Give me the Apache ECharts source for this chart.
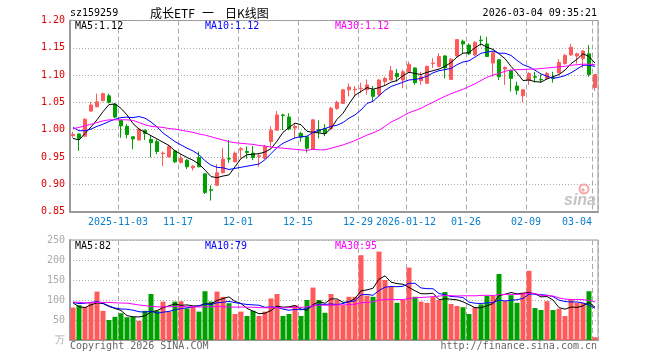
<!DOCTYPE html>
<html><head><meta charset="utf-8">
<script src="https://cdn.jsdelivr.net/npm/echarts@6/dist/echarts.min.js"></script>
<style>html,body{margin:0;padding:0;background:#fff}#c{width:660px;height:360px}</style>
</head><body><div id="c"></div>
<script>
// ---- categories (trading days) ----
const dates = ['2025-10-22','2025-10-23','2025-10-24','2025-10-27','2025-10-28','2025-10-29','2025-10-30','2025-10-31',
'2025-11-03','2025-11-04','2025-11-05','2025-11-06','2025-11-07','2025-11-10','2025-11-11','2025-11-12','2025-11-13','2025-11-14','2025-11-17','2025-11-18','2025-11-19','2025-11-20','2025-11-21','2025-11-24','2025-11-25','2025-11-26','2025-11-27','2025-11-28',
'2025-12-01','2025-12-02','2025-12-03','2025-12-04','2025-12-05','2025-12-08','2025-12-09','2025-12-10','2025-12-11','2025-12-12','2025-12-15','2025-12-16','2025-12-17','2025-12-18','2025-12-19','2025-12-22','2025-12-23','2025-12-24','2025-12-25','2025-12-26','2025-12-29','2025-12-30','2025-12-31',
'2026-01-05','2026-01-06','2026-01-07','2026-01-08','2026-01-09','2026-01-12','2026-01-13','2026-01-14','2026-01-15','2026-01-16','2026-01-19','2026-01-20','2026-01-21','2026-01-22','2026-01-23','2026-01-26','2026-01-27','2026-01-28','2026-01-29','2026-01-30',
'2026-02-02','2026-02-03','2026-02-04','2026-02-05','2026-02-06','2026-02-09','2026-02-10','2026-02-11','2026-02-12','2026-02-13','2026-02-24','2026-02-25','2026-02-26','2026-02-27',
'2026-03-02','2026-03-03','2026-03-04'];

// ---- tick labels ----
const tickDates  = ['2025-11-03','2025-11-17','2025-12-01','2025-12-15','2025-12-29','2026-01-12','2026-01-26','2026-02-09','2026-03-04'];
const tickLabels = ['2025-11-03','11-17','12-01','12-15','12-29','2026-01-12','01-26','02-09','03-04'];
const priceTicks = [0.85, 1.20, 0.05];   // min, max, step
const volTicks   = [0, 250, 50];

// ---- price series ----
const opens = [0.989,0.992,0.988,1.034,1.042,1.053,1.062,1.047,1.017,1.006,
0.987,0.981,0.999,0.982,0.978,0.956,0.950,0.961,0.940,0.944,
0.930,0.949,0.919,0.890,0.898,0.921,0.947,0.941,0.963,0.960,
0.957,0.951,0.947,0.978,0.999,1.027,1.023,1.003,0.993,0.987,
0.964,1.000,1.002,1.002,1.039,1.048,1.073,1.073,1.075,1.073,
1.073,1.064,1.088,1.091,1.103,1.091,1.106,1.113,1.090,1.085,
1.121,1.116,1.135,1.092,1.135,1.162,1.155,1.137,1.164,1.157,
1.122,1.128,1.111,1.108,1.080,1.062,1.091,1.097,1.092,1.094,
1.095,1.104,1.121,1.137,1.135,1.130,1.139,1.077];
const closes = [0.991,0.984,1.019,1.045,1.051,1.066,1.050,1.023,1.007,0.991,
0.983,1.001,0.993,0.976,0.960,0.957,0.969,0.941,0.947,0.932,
0.933,0.932,0.885,0.889,0.921,0.946,0.946,0.957,0.965,0.958,
0.949,0.952,0.969,0.999,1.027,1.026,1.001,1.006,0.986,0.966,
1.018,0.996,0.993,1.039,1.050,1.073,1.078,1.074,1.076,1.082,
1.061,1.091,1.094,1.108,1.097,1.106,1.120,1.086,1.097,1.116,
1.122,1.134,1.113,1.129,1.165,1.157,1.139,1.160,1.163,1.134,
1.141,1.097,1.114,1.094,1.072,1.073,1.103,1.096,1.091,1.103,
1.094,1.123,1.136,1.151,1.139,1.144,1.101,1.101];
const lows = [0.985,0.961,0.987,1.033,1.041,1.052,1.048,1.021,0.985,0.984,
0.964,0.980,0.981,0.949,0.955,0.933,0.949,0.939,0.938,0.928,
0.925,0.931,0.882,0.870,0.897,0.920,0.939,0.940,0.947,0.947,
0.944,0.932,0.946,0.968,0.998,0.999,0.999,0.984,0.978,0.958,
0.963,0.984,0.988,1.001,1.036,1.047,1.061,1.061,1.067,1.064,
1.051,1.062,1.080,1.090,1.088,1.076,1.105,1.082,1.082,1.084,
1.113,1.114,1.094,1.091,1.134,1.140,1.137,1.135,1.154,1.133,
1.097,1.091,1.082,1.070,1.064,1.050,1.082,1.086,1.086,1.091,
1.086,1.103,1.119,1.135,1.121,1.113,1.097,1.071];
const highs = [0.996,0.993,1.021,1.051,1.066,1.068,1.066,1.048,1.017,1.010,
0.987,1.002,1.000,0.990,0.982,0.960,0.972,0.963,0.955,0.946,
0.935,0.960,0.920,0.898,0.937,0.966,0.981,0.960,0.968,0.969,
0.970,0.955,0.972,1.006,1.034,1.029,1.030,1.010,0.996,0.988,
1.019,1.017,1.010,1.042,1.053,1.074,1.085,1.080,1.086,1.092,
1.080,1.092,1.097,1.117,1.111,1.110,1.125,1.114,1.106,1.117,
1.131,1.140,1.137,1.131,1.166,1.165,1.158,1.162,1.172,1.170,
1.143,1.129,1.116,1.110,1.088,1.074,1.105,1.106,1.101,1.106,
1.106,1.129,1.139,1.157,1.141,1.146,1.155,1.102];

const ma5 = [0.984,0.981,0.993,1.005,1.018,1.033,1.046,1.047,1.039,1.027,
1.011,1.001,0.995,0.989,0.983,0.977,0.971,0.961,0.955,0.949,
0.944,0.937,0.926,0.914,0.912,0.915,0.917,0.932,0.947,0.954,
0.955,0.956,0.959,0.965,0.979,0.995,1.004,1.012,1.009,0.997,
0.995,0.994,0.992,1.002,1.019,1.030,1.047,1.063,1.070,1.077,
1.074,1.077,1.081,1.087,1.090,1.099,1.105,1.103,1.101,1.105,
1.108,1.111,1.116,1.123,1.133,1.140,1.141,1.150,1.157,1.151,
1.147,1.139,1.130,1.116,1.104,1.090,1.091,1.088,1.087,1.093,
1.097,1.101,1.109,1.121,1.129,1.139,1.134,1.122];
const ma10 = [1.004,0.998,0.998,1.001,1.006,1.010,1.015,1.019,1.022,1.023,
1.022,1.024,1.021,1.014,1.005,0.994,0.986,0.978,0.972,0.966,
0.961,0.954,0.943,0.935,0.931,0.930,0.927,0.929,0.931,0.933,
0.935,0.937,0.945,0.956,0.967,0.975,0.980,0.985,0.987,0.988,
0.995,0.999,1.002,1.006,1.008,1.013,1.021,1.027,1.036,1.048,
1.052,1.062,1.072,1.079,1.083,1.087,1.091,1.092,1.094,1.098,
1.104,1.108,1.110,1.112,1.119,1.124,1.126,1.133,1.140,1.142,
1.144,1.140,1.140,1.136,1.127,1.119,1.115,1.109,1.102,1.098,
1.094,1.096,1.099,1.104,1.111,1.118,1.118,1.116];
const ma30 = [1.002,1.004,1.007,1.010,1.013,1.016,1.018,1.018,1.018,1.018,
1.017,1.013,1.009,1.006,1.005,1.004,1.002,1.001,0.999,0.997,
0.995,0.992,0.990,0.987,0.984,0.981,0.978,0.976,0.975,0.974,
0.973,0.971,0.970,0.968,0.967,0.966,0.965,0.964,0.963,0.962,
0.964,0.963,0.963,0.966,0.969,0.972,0.976,0.980,0.985,0.990,
0.994,0.999,1.006,1.014,1.019,1.025,1.031,1.035,1.039,1.045,
1.050,1.056,1.061,1.066,1.070,1.074,1.079,1.084,1.090,1.096,
1.100,1.103,1.107,1.109,1.110,1.110,1.111,1.111,1.112,1.113,
1.114,1.115,1.116,1.118,1.119,1.120,1.120,1.119];

// ---- volume series (万) ----
const vols = [81,87,83,92,121,73,50,58,67,57,
58,48,73,115,73,96,71,96,97,79,
83,71,122,96,121,108,92,65,71,60,
73,60,71,104,115,60,65,87,60,100,
131,100,68,115,100,87,108,108,212,111,
108,221,150,133,93,100,181,108,96,93,
107,100,120,90,85,82,65,82,89,110,
110,165,97,112,93,118,173,80,75,97,
75,78,60,102,93,93,122,7];
const volMa5 = [93,83,81,88,92.8,91.2,83.8,78.8,73.8,61,
58,57.6,60.6,70.2,73.4,81,85.6,90.2,86.6,87.8,
85.2,85.2,90.4,90.2,98.6,103.6,107.8,96.4,91.4,79.2,
72.2,65.8,67,73.6,84.6,82,83,86.2,77.4,74.4,
88.6,95.6,91.8,102.8,102.8,94,95.6,103.6,123,125.2,
129.4,152,160.4,144.6,141,139.4,131.4,123,115.6,115.6,
117,100.8,103.2,102,100.4,95.4,88.4,80.8,80.6,85.6,
91.2,111.2,114.2,118.8,115.4,117,118.6,115.2,107.8,108.6,
100,81,77,82.4,81.6,85.2,94,82];
const volMa10 = [94,91,92,94,96,92,85,80,77.5,76.9,
74.6,70.7,69.7,72,67.2,69.5,71.6,75.4,78.4,80.6,
83.1,85.4,90.3,88.4,93.2,94.4,96.5,93.4,90.8,88.9,
87.9,86.8,81.7,82.5,81.9,77.1,74.4,76.6,75.5,79.5,
85.3,89.3,89,90.1,88.6,91.3,95.6,97.7,112.9,114,
111.7,123.8,132,133.8,133.1,134.4,141.7,141.7,130.1,128.3,
128.2,116.1,113.1,108.8,108,106.2,94.6,92,91.3,93,
93.3,99.8,97.5,99.7,100.5,104.1,114.9,114.7,113.3,112,
108.5,99.8,96.1,95.1,95.1,92.6,87.5,79.4];
const volMa30 = [95,94,93,93,94,94,94,93,92.5,92,
90,87.5,86,84,83,83,83,84,84,83,
83,82.5,83,83,84,83,82.5,82,82.5,82.1,
81.9,81.0,80.6,81.0,80.8,80.3,80.8,81.8,81.6,83.0,
85.4,87.2,87.0,87.0,87.9,87.6,88.8,89.2,93.1,94.1,
95.0,100.0,100.9,102.1,101.2,100.9,103.9,105.3,106.2,107.3,
108.4,109.7,111.4,110.9,109.9,110.6,110.6,110.5,111.4,111.8,
111.1,113.2,114.2,114.1,113.9,114.9,117.1,116.1,111.6,111.1,
110.0,105.2,102.2,101.2,101.2,101.0,99.0,95.3];

// ---- texts ----
const code = 'sz159259';
const titleParts = ['成长ETF', '一', '日K线图'];
const stamp = '2026-03-04 09:35:21';

// ---- styling ----
const RED = '#ff5a5a', GREEN = '#00a000';
const MONO = '"DejaVu Sans Mono", "Liberation Mono", monospace';
const font = (s) => s + 'px ' + MONO;
const CJK = '12px "Noto Sans CJK SC"';
const last = (a) => a[a.length - 1];

const kData = opens.map((o, i) => [o, closes[i], lows[i], highs[i]]);
const isUp = (i) => closes[i] >= opens[i];

const splitX = {
  show: true,
  interval: (idx, val) => tickDates.indexOf(val) >= 0,
  lineStyle: { color: '#aaa', type: [5, 3], width: 1 }
};
const axisLineStyle = { show: true, lineStyle: { color: '#999', width: 2 } };
const dotted = { show: true, lineStyle: { color: '#aaa', type: [1, 2], width: 1 } };

function txt(x, y, text, fill, f, align) {
  return { type: 'text', x, y, z: 100,
    style: { text, fill, font: f, textAlign: align || 'left', textVerticalAlign: 'middle' } };
}

const chart = echarts.init(document.getElementById('c'), null, { renderer: 'canvas' });
chart.setOption({
  animation: false,
  backgroundColor: '#fff',
  grid: [
    { left: 70, right: 62, top: 20.5, height: 191, show: true, borderColor: '#999', borderWidth: 1 },
    { left: 70, right: 62, top: 240, height: 100, show: true, borderColor: '#999', borderWidth: 1 }
  ],
  xAxis: [
    { type: 'category', gridIndex: 0, data: dates, boundaryGap: true,
      axisLine: axisLineStyle, axisTick: { show: false },
      axisLabel: {
        interval: (idx, val) => tickDates.indexOf(val) >= 0,
        formatter: (val, idx) => {
          const i = tickDates.indexOf(val);
          if (i < 0) return '';
          return (idx === dates.length - 1 ? '{b|' : '{a|') + tickLabels[i] + '}';
        },
        margin: 6,
        rich: {
          a: { color: '#0a7fcc', fontFamily: MONO, fontSize: 10, padding: [0, 6, 0, 0] },
          b: { color: '#0a7fcc', fontFamily: MONO, fontSize: 10, padding: [0, 36, 0, 0] }
        }
      },
      splitLine: splitX },
    { type: 'category', gridIndex: 1, data: dates, boundaryGap: true,
      axisLine: axisLineStyle, axisTick: { show: false }, axisLabel: { show: false },
      splitLine: splitX }
  ],
  yAxis: [
    { type: 'value', gridIndex: 0, min: priceTicks[0], max: priceTicks[1], interval: priceTicks[2],
      axisLine: axisLineStyle, axisTick: { show: false },
      axisLabel: { color: '#e00000', fontFamily: MONO, fontSize: 10, margin: 5,
        formatter: (v) => v.toFixed(2) },
      splitLine: dotted },
    { type: 'value', gridIndex: 1, min: volTicks[0], max: volTicks[1], interval: volTicks[2],
      axisLine: axisLineStyle, axisTick: { show: false },
      axisLabel: { color: '#aaa', fontFamily: MONO, fontSize: 10, margin: 5,
        formatter: (v) => v === 0 ? '万' : String(v) },
      splitLine: dotted }
  ],
  series: [
    { type: 'candlestick', xAxisIndex: 0, yAxisIndex: 0, data: kData, barWidth: 4,
      itemStyle: { color: RED, color0: GREEN, borderColor: RED, borderColor0: GREEN, borderWidth: 1 } },
    { type: 'line', xAxisIndex: 0, yAxisIndex: 0, data: ma5, showSymbol: false, symbol: 'none',
      lineStyle: { color: '#000', width: 1 }, z: 5 },
    { type: 'line', xAxisIndex: 0, yAxisIndex: 0, data: ma10, showSymbol: false, symbol: 'none',
      lineStyle: { color: '#0000ff', width: 1 }, z: 5 },
    { type: 'line', xAxisIndex: 0, yAxisIndex: 0, data: ma30, showSymbol: false, symbol: 'none',
      lineStyle: { color: '#ff00ff', width: 1 }, z: 5 },
    { type: 'bar', xAxisIndex: 1, yAxisIndex: 1, data: vols, barWidth: 5,
      itemStyle: { color: (p) => isUp(p.dataIndex) ? RED : GREEN } },
    { type: 'line', xAxisIndex: 1, yAxisIndex: 1, data: volMa5, showSymbol: false, symbol: 'none',
      lineStyle: { color: '#000', width: 1 }, z: 5 },
    { type: 'line', xAxisIndex: 1, yAxisIndex: 1, data: volMa10, showSymbol: false, symbol: 'none',
      lineStyle: { color: '#0000ff', width: 1 }, z: 5 },
    { type: 'line', xAxisIndex: 1, yAxisIndex: 1, data: volMa30, showSymbol: false, symbol: 'none',
      lineStyle: { color: '#ff00ff', width: 1 }, z: 5 }
  ],
  graphic: [
    txt(70, 13, code, '#000', font(10)),
    txt(150, 13, titleParts[0], '#000', CJK),
    txt(202, 13, titleParts[1], '#000', CJK),
    txt(225, 13, titleParts[2], '#000', CJK),
    txt(597, 13, stamp, '#000', font(10), 'right'),
    txt(75, 26, 'MA5:' + last(ma5).toFixed(2), '#000', font(10)),
    txt(205, 26, 'MA10:' + last(ma10).toFixed(2), '#0000ff', font(10)),
    txt(335, 26, 'MA30:' + last(ma30).toFixed(2), '#ff00ff', font(10)),
    txt(75, 246.5, 'MA5:' + Math.round(last(volMa5)), '#000', font(10)),
    txt(205, 246.5, 'MA10:' + Math.round(last(volMa10)), '#0000ff', font(10)),
    txt(335, 246.5, 'MA30:' + Math.round(last(volMa30)), '#ff00ff', font(10)),
    txt(70, 346, 'Copyright 2026 SINA.COM', '#666', font(10)),
    txt(597, 346, 'http://finance.sina.com.cn', '#666', font(10), 'right'),
    { type: 'circle', shape: { cx: 584, cy: 189, r: 4.5 }, z: 1,
      style: { fill: 'none', stroke: '#f6a8a8', lineWidth: 2 } },
    { type: 'circle', shape: { cx: 583, cy: 190, r: 1.8 }, z: 1, style: { fill: '#f6a8a8' } },
    txt(564, 201, 'sina', '#c4c4c4', 'italic bold 16px "Liberation Sans"')
  ]
});
</script></body></html>
